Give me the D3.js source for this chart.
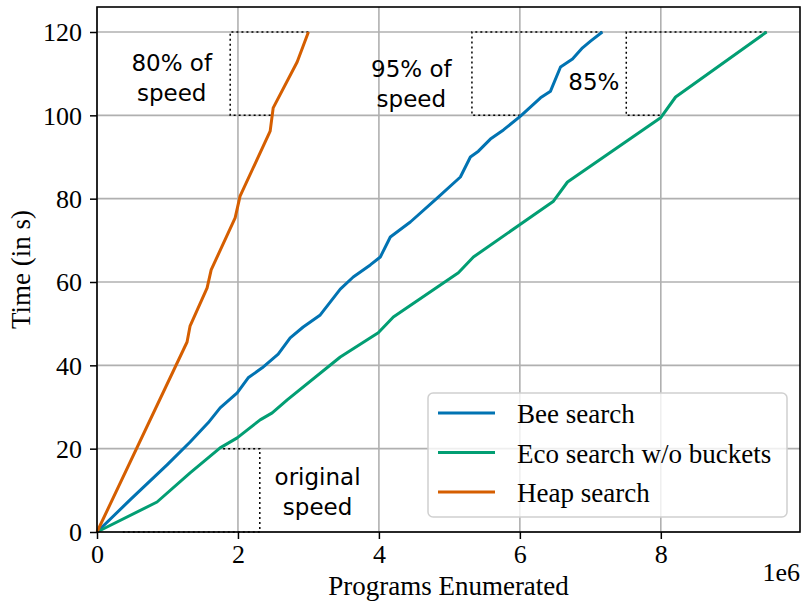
<!DOCTYPE html>
<html>
<head>
<meta charset="utf-8">
<script src="https://cdn.jsdelivr.net/npm/d3@7"></script>
<style>
  body { margin: 0; background: #fff; }
  svg { display: block; }
</style>
</head>
<body>
<svg id="chart" width="803" height="604"></svg>
<script>
// Programs enumerated (count) against elapsed time (seconds) per search strategy
const beeX = [0, 0.469e6, 0.994e6, 1.321e6, 1.577e6, 1.747e6, 1.989e6, 2.145e6, 2.344e6, 2.571e6,
  2.741e6, 2.926e6, 3.168e6, 3.452e6, 3.636e6, 3.878e6, 4.02e6, 4.162e6, 4.446e6, 4.83e6,
  5.156e6, 5.298e6, 5.412e6, 5.582e6, 5.767e6, 6.009e6, 6.293e6, 6.435e6, 6.577e6, 6.747e6,
  6.889e6, 7.003e6, 7.17e6];
const beeT = [0, 7.7, 16.1, 21.6, 26.2, 29.8, 33.4, 37.0, 39.4, 42.7,
  46.6, 49.2, 52.1, 58.3, 61.2, 64.1, 66.0, 70.8, 74.4, 80.2,
  85.2, 90.0, 91.4, 94.3, 96.5, 99.8, 104.2, 105.8, 111.6, 113.5,
  116.2, 117.8, 120];

const ecoX = [0, 0.852e6, 1.321e6, 1.747e6, 1.989e6, 2.315e6, 2.486e6, 2.699e6, 3.452e6, 3.991e6,
  4.205e6, 5.128e6, 5.341e6, 6.477e6, 6.676e6, 7.997e6, 8.21e6, 9.5e6];
const ecoT = [0, 7.2, 14.2, 20.2, 22.6, 26.9, 28.6, 31.7, 42.0, 47.8,
  51.6, 62.2, 66.0, 79.4, 84.0, 99.4, 104.4, 120];

const heapX = [0, 1.278e6, 1.32e6, 1.5625e6, 1.62e6, 1.96e6, 2.03e6, 2.457e6, 2.5e6, 2.84e6, 3.0e6];
const heapT = [0, 45.6, 49.4, 58.6, 62.9, 75.4, 80.6, 96.2, 101.8, 112.8, 120];

const seriesNames = ["Bee search", "Eco search w/o buckets", "Heap search"];
const seriesColors = ["#0173B2", "#029E73", "#D55E00"];

const xTicks = [0, 2e6, 4e6, 6e6, 8e6];
const yTicks = [0, 20, 40, 60, 80, 100, 120];

// Dotted guide outlines: [programs, seconds] vertices
const guideOriginal = [[1.79e6, 20], [2.31e6, 20], [2.31e6, 0], [0.33e6, 0]];
const guideHeap = [[3.0e6, 120], [1.89e6, 120], [1.89e6, 100], [2.48e6, 100]];
const guideBee = [[7.17e6, 120], [5.32e6, 120], [5.32e6, 100], [6.0e6, 100]];
const guideEco = [[9.5e6, 120], [7.51e6, 120], [7.51e6, 100], [8.0e6, 100]];

// Text notes: lines, anchor [programs, seconds]
const notes = [
  { lines: ["80% of", "speed"], at: [1.06e6, 110.6] },
  { lines: ["95% of", "speed"], at: [4.46e6, 109.2] },
  { lines: ["85%"], at: [7.05e6, 106.0] },
  { lines: ["original", "speed"], at: [3.13e6, 11.3] }
];

const svg = d3.select("#chart");
const L = 97, R = 800, T = 7, B = 532;
const serif = "'Liberation Serif', 'Times New Roman', serif";
const sans = "'DejaVu Sans', sans-serif";

const x = d3.scaleLinear().domain([0, 9.975e6]).range([L, R]);
const y = d3.scaleLinear().domain([0, 126]).range([B, T]);

// Grid
const grid = svg.append("g");
grid.selectAll(".gx").data(xTicks).join("line")
  .attr("x1", d => x(d)).attr("x2", d => x(d)).attr("y1", T).attr("y2", B)
  .attr("stroke", "#b0b0b0").attr("stroke-width", 1.6);
grid.selectAll(".gy").data(yTicks).join("line")
  .attr("x1", L).attr("x2", R).attr("y1", d => y(d)).attr("y2", d => y(d))
  .attr("stroke", "#b0b0b0").attr("stroke-width", 1.6);

// Dotted guides
const guideLine = d3.line().x(d => x(d[0])).y(d => y(d[1]));
svg.append("g").selectAll("path").data([guideOriginal, guideHeap, guideBee, guideEco]).join("path")
  .attr("d", guideLine).attr("fill", "none").attr("stroke", "#000")
  .attr("stroke-width", 1.5).attr("stroke-dasharray", "2,3");

// Series lines
const series = [
  { xs: beeX, ts: beeT },
  { xs: ecoX, ts: ecoT },
  { xs: heapX, ts: heapT }
];
const line = d3.line().x(d => x(d[0])).y(d => y(d[1]));
svg.append("g").selectAll("path").data(series).join("path")
  .attr("d", s => line(s.xs.map((v, i) => [v, s.ts[i]])))
  .attr("fill", "none")
  .attr("stroke", (s, i) => seriesColors[i])
  .attr("stroke-width", 3)
  .attr("stroke-linejoin", "round");

// Notes
const noteG = svg.append("g").attr("font-family", sans).attr("font-size", 23).attr("fill", "#000");
notes.forEach(n => {
  const t = noteG.append("text").attr("text-anchor", "middle");
  n.lines.forEach((s, i) => {
    t.append("tspan").attr("x", x(n.at[0])).attr("y", y(n.at[1]) + i * 30).text(s);
  });
});

// Axes
const xAxis = d3.axisBottom(x).tickValues(xTicks).tickSize(7).tickPadding(6)
  .tickFormat(d => d3.format("d")(d / 1e6));
const yAxis = d3.axisLeft(y).tickValues(yTicks).tickSize(7).tickPadding(8)
  .tickFormat(d3.format("d"));

const gx = svg.append("g").attr("transform", `translate(0,${B})`).call(xAxis);
const gy = svg.append("g").attr("transform", `translate(${L},0)`).call(yAxis);
[gx, gy].forEach(g => {
  g.select(".domain").remove();
  g.selectAll(".tick line").attr("stroke", "#000").attr("stroke-width", 1.5);
  g.selectAll(".tick text").attr("font-family", serif).attr("font-size", 26).attr("fill", "#000");
});
gy.selectAll(".tick text").attr("dy", "0.34em");

// Frame
svg.append("rect").attr("x", L).attr("y", T).attr("width", R - L).attr("height", B - T)
  .attr("fill", "none").attr("stroke", "#000").attr("stroke-width", 1.6);

// Axis titles
svg.append("text").attr("x", (L + R) / 2).attr("y", 595).attr("text-anchor", "middle")
  .attr("font-family", serif).attr("font-size", 27).text("Programs Enumerated");
svg.append("text").attr("x", R).attr("y", 581).attr("text-anchor", "end")
  .attr("font-family", serif).attr("font-size", 26).text("1e6");
svg.append("text").attr("transform", `translate(30,${(T + B) / 2}) rotate(-90)`)
  .attr("text-anchor", "middle")
  .attr("font-family", serif).attr("font-size", 27).text("Time (in s)");

// Legend
const lg = svg.append("g");
lg.append("rect").attr("x", 428).attr("y", 393).attr("width", 359).attr("height", 124)
  .attr("rx", 5).attr("fill", "#fff").attr("fill-opacity", 0.8)
  .attr("stroke", "#d0d0d0").attr("stroke-width", 1.5);
seriesNames.forEach((name, i) => {
  const cy = 413 + i * 39.5;
  lg.append("line").attr("x1", 438).attr("x2", 495).attr("y1", cy).attr("y2", cy)
    .attr("stroke", seriesColors[i]).attr("stroke-width", 3);
  lg.append("text").attr("x", 517).attr("y", cy + 10).attr("font-family", serif)
    .attr("font-size", 27).attr("fill", "#000").text(name);
});
</script>
</body>
</html>
